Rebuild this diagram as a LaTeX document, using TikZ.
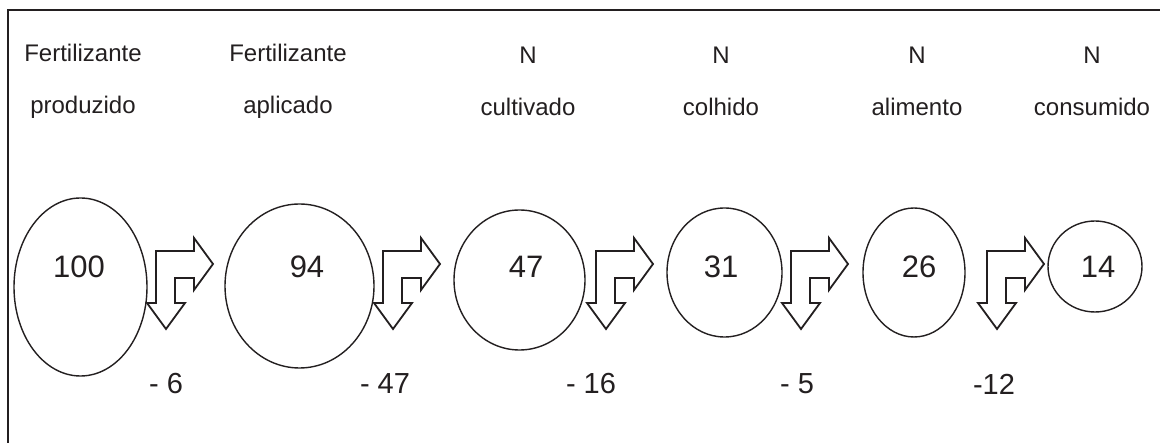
\documentclass[tikz,border=0pt]{standalone}
\usepackage{fontspec}
\setmainfont{Liberation Sans}
\usetikzlibrary{shapes.geometric}
\definecolor{ink}{HTML}{231F20}
\begin{document}
\begin{tikzpicture}[x=1pt,y=-1pt,
  stage/.style={ellipse,draw=ink,line width=1.4pt,inner sep=0pt},
  val/.style={text=ink,font=\fontsize{31}{36}\selectfont,inner sep=0pt},
  title/.style={text=ink,font=\fontsize{24}{52}\selectfont,align=center,inner sep=0pt},
  loss/.style={text=ink,font=\fontsize{29}{34}\selectfont,inner sep=0pt},
  splitarrow/.pic={
    \draw[draw=ink,line width=1.8pt,line join=miter,fill=white]
      (0,0) -- (38,0) -- (38,-13) -- (57,13) -- (38,39) -- (38,27)
      -- (19,27) -- (19,52) -- (29,52) -- (10,78) -- (-9,52) -- (0,52) -- cycle;
  }]
\useasboundingbox (0,0) rectangle (1160,443);
\clip (0,0) rectangle (1160,443);
\fill[white] (0,0) rectangle (1160,443);
% outer frame, running past the right and lower edges
\draw[draw=ink,line width=2pt] (8,10) rectangle (1175,460);

% column headings
\node[title] (t1) at (83,81)   {Fertilizante\\produzido};
\node[title] (t2) at (288,81)  {Fertilizante\\aplicado};
\node[title] (t3) at (528,81)  {N\\cultivado};
\node[title] (t4) at (721,81)  {N\\colhido};
\node[title] (t5) at (917,81)  {N\\alimento};
\node[title] (t6) at (1092,81) {N\\consumido};

% nitrogen pools
\node[stage,minimum width=133pt,minimum height=178pt] (e1) at (80.5,287) {};
\node[stage,minimum width=149pt,minimum height=164pt] (e2) at (299.5,286) {};
\node[stage,minimum width=131pt,minimum height=140pt] (e3) at (519.5,280) {};
\node[stage,minimum width=115pt,minimum height=129pt] (e4) at (724.5,272.5) {};
\node[stage,minimum width=102pt,minimum height=129pt] (e5) at (914,272.5) {};
\node[stage,minimum width=94pt,minimum height=91pt]   (e6) at (1095,266.5) {};

\node[val] (v1) at (79,267)   {100};
\node[val] (v2) at (307,267)  {94};
\node[val] (v3) at (526,267)  {47};
\node[val] (v4) at (721,267)  {31};
\node[val] (v5) at (919,267)  {26};
\node[val] (v6) at (1098,267) {14};

% split arrows: flow onward and loss downward
\pic (a1) at (156,251) {splitarrow};
\pic (a2) at (383,251) {splitarrow};
\pic (a3) at (596,251) {splitarrow};
\pic (a4) at (791,251) {splitarrow};
\pic (a5) at (987,251) {splitarrow};

% losses
\node[loss] (l1) at (166,384) {- 6};
\node[loss] (l2) at (385,384) {- 47};
\node[loss] (l3) at (591,384) {- 16};
\node[loss] (l4) at (797,384) {- 5};
\node[loss] (l5) at (994,384) {-12};
\end{tikzpicture}
\end{document}
